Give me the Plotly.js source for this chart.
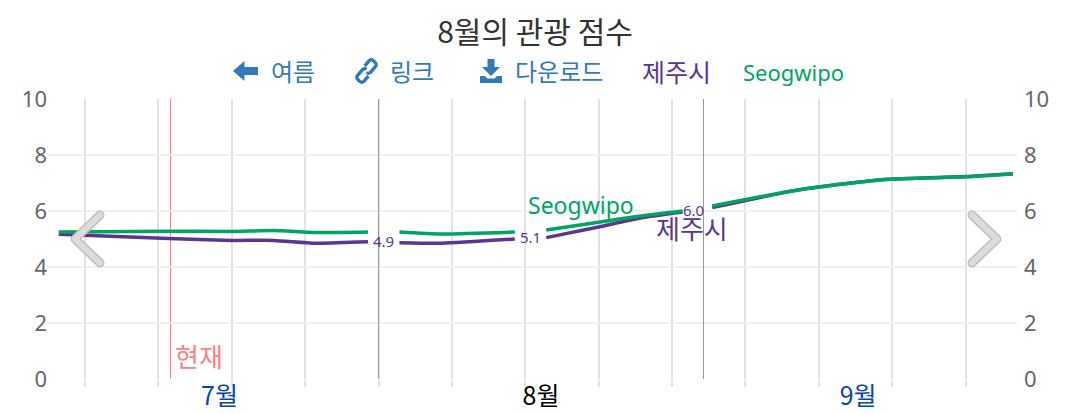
<!DOCTYPE html>
<html><head><meta charset="utf-8">
<script src="https://cdn.plot.ly/plotly-3.0.1.min.js"></script>
<style>html,body{margin:0;padding:0;background:#fff}#c{width:1087px;height:414px}</style>
</head><body><div id="c"></div>
<script>
// --- data ---
const dates = ["2024-07-01T12:00","2024-07-12","2024-07-18","2024-07-22","2024-07-26","2024-07-31","2024-07-31T23:00",
 "2024-08-03","2024-08-07","2024-08-14","2024-08-14T12:00","2024-08-17","2024-08-22","2024-08-26","2024-08-30","2024-08-30T12:00",
 "2024-09-01T20:00","2024-09-10","2024-09-18","2024-09-26","2024-09-30T12:00"];
const jejuValues = [5.17,5.02,4.95,4.95,4.85,4.9,null,4.87,4.85,5.0,null,5.05,5.43,5.75,5.96,null,6.12,6.75,7.12,7.23,7.33];
const seogwipoValues = [5.25,5.28,5.27,5.3,5.23,5.25,null,5.25,5.18,5.25,null,5.32,5.6,5.82,6.0,null,6.18,6.75,7.12,7.22,7.32];
const weekTicks = ["2024-07-04","2024-07-11","2024-07-18","2024-07-25","2024-08-01","2024-08-08","2024-08-15","2024-08-22","2024-08-29","2024-09-05","2024-09-12","2024-09-19","2024-09-26"];
const monthTicks = ["2024-07-16T20:00","2024-08-16T12:00","2024-09-15T18:00"];
const monthLabels = ["7월","8월","9월"];
const monthLines = ["2024-08-01","2024-09-01"];
const todayDate = "2024-07-12T03:50";
const pointLabels = [["2024-08-01T12:00",4.93,"4.9"],["2024-08-15T12:00",5.07,"5.1"],["2024-08-31",6.03,"6.0"]];
const yTicks = [0,2,4,6,8,10];

// --- style ---
const FONT = '"Noto Sans","Noto Sans CJK KR",sans-serif';
const KR = '"Noto Sans CJK KR","Noto Sans",sans-serif';
const PURPLE = '#5b3590', GREEN = '#00a562', BLUE = '#337ab7', RED = '#ff8080';
const L = 48, R = 1018, T = 99, B = 379;
const px = x => (x - L) / (R - L);
const py = y => (B - y) / (B - T);
const note = (x, y, text, size, color, family) => ({xref:'paper', yref:'paper', x:px(x), y:py(y), text, showarrow:false,
  xanchor:'center', yanchor:'middle', font:{size, color, family:family||KR}});
const svg = s => 'data:image/svg+xml;utf8,' + encodeURIComponent(s);
const icon = (x, y, w, h, s) => ({source:svg(s), xref:'paper', yref:'paper', x:px(x), y:py(y), sizex:w/(R-L), sizey:h/(B-T),
  xanchor:'left', yanchor:'top', layer:'above', sizing:'stretch'});
const chev = d => `<svg xmlns="http://www.w3.org/2000/svg" width="36" height="60" viewBox="0 0 36 60"><path d="${d}" fill="none" stroke="#bdbdbd" stroke-width="9" stroke-linecap="round" stroke-linejoin="round"/><path d="${d}" fill="none" stroke="#dcdcdc" stroke-width="6" stroke-linecap="round" stroke-linejoin="round"/></svg>`;
const arrowI = `<svg xmlns="http://www.w3.org/2000/svg" width="24" height="20" viewBox="0 0 24 20"><path d="M0 10L11 0V6H24V14H11V20Z" fill="${BLUE}"/></svg>`;
const linkI = `<svg xmlns="http://www.w3.org/2000/svg" width="24" height="26" viewBox="0 0 24 26"><g fill="none" stroke="${BLUE}" stroke-width="3.4" stroke-linejoin="round"><path d="M10 8L15 2.5Q17 1 19 2.5L21.5 5Q23 7 21 9L16 14.5Q14 16 12 14.5"/><path d="M14 18L9 23.5Q7 25 5 23.5L2.5 21Q1 19 3 17L8 11.5Q10 10 12 11.5"/></g></svg>`;
const dlI = `<svg xmlns="http://www.w3.org/2000/svg" width="22" height="24" viewBox="0 0 22 24"><path d="M7.5 0H14.5V8H20L11 17L2 8H7.5Z M0 17H5L7.5 19.5H14.5L17 17H22V24H0Z" fill="${BLUE}"/></svg>`;

const traces = [
 {x:dates, y:jejuValues, mode:'lines', name:'제주시', connectgaps:false, line:{color:PURPLE, width:3.5, shape:'spline', smoothing:0.6}, hoverinfo:'skip'},
 {x:dates, y:seogwipoValues, yaxis:'y2', mode:'lines', name:'Seogwipo', connectgaps:false, line:{color:GREEN, width:3.5, shape:'spline', smoothing:0.6}, hoverinfo:'skip'}
];
const yBase = {range:[0,10], tickmode:'array', tickvals:yTicks, ticktext:yTicks.map(String), showline:false, zeroline:false,
  showgrid:true, gridcolor:'#f0f0f0', gridwidth:2, ticks:'', tickfont:{size:22, color:'#666666', family:FONT}, fixedrange:true};
const layout = {
 width:1087, height:414, showlegend:false, paper_bgcolor:'#fff', plot_bgcolor:'#fff',
 margin:{l:L, r:1087-R, t:T, b:414-B, pad:0},
 title:{text:'8월의 관광 점수', x:535/1087, xanchor:'center', y:1-32/414, yanchor:'middle', font:{size:30, color:'#333333', family:KR}},
 xaxis:{type:'date', range:['2024-06-30T11:24','2024-09-30T23:56'], tickmode:'array', tickvals:monthTicks,
   ticktext:[`<span style="color:#0645ad">${monthLabels[0]}</span>`,`<span style="color:#000000">${monthLabels[1]}</span>`,`<span style="color:#0645ad">${monthLabels[2]}</span>`],
   ticks:'', showgrid:false, showline:false, zeroline:false, tickangle:0, tickfont:{size:25, family:KR},
   minor:{tickmode:'array', tickvals:weekTicks, ticks:'outside', ticklen:7, tickcolor:'#e2e2e2', tickwidth:2, showgrid:true, gridcolor:'#e2e2e2', gridwidth:2}},
 yaxis:Object.assign({}, yBase, {side:'left'}),
 yaxis2:Object.assign({}, yBase, {side:'right', overlaying:'y', showgrid:false, ticklabelstandoff:5}),
 shapes:monthLines.map(d => ({type:'line', xref:'x', yref:'paper', x0:d, x1:d, y0:0, y1:1, line:{color:'#999999', width:1}, layer:'above'}))
   .concat([{type:'line', xref:'x', yref:'paper', x0:todayDate, x1:todayDate, y0:0, y1:1, line:{color:RED, width:1}, layer:'between'}]),
 annotations:[
  note(293,71,'여름',24,BLUE), note(412,71,'링크',24,BLUE), note(559,71,'다운로드',24,BLUE),
  note(676,71,'제주시',25,PURPLE), note(793,72,'Seogwipo',22,GREEN,FONT),
  note(199,355,'현재',26,RED), note(581,205,'Seogwipo',23,GREEN,FONT), note(692,227,'제주시',26,PURPLE)
 ].concat(pointLabels.map(p => ({xref:'x', yref:'y', x:p[0], y:p[1], text:p[2], showarrow:false, font:{size:15, color:PURPLE, family:FONT}}))),
 images:[
  icon(233,61,25,20,arrowI), icon(355,58,23,26,linkI), icon(480,59,22,24,dlI),
  icon(69,209,36,60,chev('M31 6L6 30L31 54')), icon(967,209,36,60,chev('M5 6L30 30L5 54'))
 ]
};
Plotly.newPlot('c', traces, layout, {displayModeBar:false, staticPlot:true});
</script></body></html>
